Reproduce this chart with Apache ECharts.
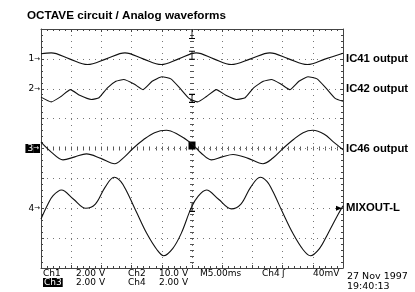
<!DOCTYPE html>
<html>
<head>
<meta charset="utf-8">
<script src="https://cdn.jsdelivr.net/npm/echarts@6/dist/echarts.min.js"></script>
<style>
  html, body { margin: 0; padding: 0; background: #fff; }
  #scope { width: 415px; height: 292px; }
</style>
</head>
<body>
<div id="scope"></div>
<script>
// time in ms relative to the trigger, value in screen divisions
const ch1 = [
  [-25, 3.17], [-23.3, 3.2], [-20.3, 3.0], [-17.3, 2.81], [-14.2, 3.0], [-11.1, 3.2],
  [-8.1, 3.0], [-5.1, 2.81], [-2.2, 3.0], [0.7, 3.2], [3.6, 3.0], [6.5, 2.81],
  [9.7, 3.0], [12.9, 3.2], [16.0, 3.0], [19.1, 2.81], [22.1, 3.0], [25, 3.19]
];
const ch2 = [
  [-25, 1.72], [-23.3, 1.56], [-21.7, 1.74], [-20.13, 1.97], [-18.6, 1.78], [-16.66, 1.64],
  [-15.4, 1.7], [-14.0, 2.03], [-12.6, 2.25], [-11.31, 2.31], [-9.6, 2.16], [-8.11, 1.97],
  [-6.6, 2.25], [-4.97, 2.4], [-3.5, 2.33], [-2.0, 2.02], [-0.5, 1.68], [0.94, 1.56],
  [2.4, 1.74], [4.04, 1.97], [5.6, 1.78], [7.35, 1.64], [8.8, 1.7], [10.2, 2.03],
  [11.8, 2.25], [13.15, 2.31], [14.7, 2.16], [16.18, 1.97], [17.7, 2.25], [19.2, 2.4],
  [20.7, 2.33], [22.2, 2.02], [23.7, 1.68], [25, 1.58]
];
const ch3 = [
  [-25, 0.21], [-23.3, -0.12], [-21.36, -0.38], [-19.4, -0.28], [-17.48, -0.18], [-15.1, -0.33],
  [-12.8, -0.51], [-11.4, -0.32], [-9.77, 0], [-8.0, 0.3], [-6.2, 0.53], [-4.24, 0.61],
  [-2.6, 0.5], [-0.1, 0.17], [1.5, -0.15], [3.2, -0.38], [5.0, -0.28], [6.8, -0.2],
  [9.3, -0.33], [11.75, -0.51], [13.4, -0.32], [15.07, 0], [16.8, 0.3], [18.4, 0.53],
  [20.0, 0.61], [21.9, 0.48], [23.4, 0.22], [25, -0.04]
];
const ch4 = [
  [-25, -2.36], [-23.84, -1.86], [-23.0, -1.58], [-21.62, -1.39], [-19.6, -1.7], [-17.6, -2.0],
  [-16.0, -1.86], [-14.4, -1.3], [-12.9, -0.96], [-11.8, -1.1], [-10.8, -1.44], [-9.1, -2.17],
  [-7.5, -2.84], [-5.8, -3.39], [-4.7, -3.59], [-3.2, -3.35], [-1.8, -2.85], [-0.1, -1.97],
  [1.0, -1.6], [2.38, -1.39], [4.4, -1.7], [6.52, -2.02], [8.1, -1.86], [9.7, -1.3],
  [11.3, -0.96], [12.4, -1.1], [13.4, -1.44], [15.07, -2.17], [16.7, -2.84], [18.4, -3.39],
  [19.6, -3.59], [21.1, -3.35], [22.5, -2.85], [24.2, -2.2], [25, -1.92]
];

const channelMarks = ['1', '2', '3', '4'];
const channelNames = ['IC41 output', 'IC42 output', 'IC46 output', 'MIXOUT-L'];
const channelOffsets = [3, 2, 0, -2];
const triggerLevel = -2;

const readoutTop = ['Ch1', '2.00 V', 'Ch2', '10.0 V', 'M5.00ms', 'Ch4', 'ʃ', '40mV'];
const readoutBottom = ['Ch3', '2.00 V', 'Ch4', '2.00 V'];
const stamp = ['27 Nov 1997', '19:40:13'];
const title = 'OCTAVE circuit / Analog waveforms';

const chart = echarts.init(document.getElementById('scope'));

const edge = '#444';
const plain = 'DejaVu Sans';

function frameAxis(extra) {
  return Object.assign({
    type: 'value',
    min: -25,
    max: 25,
    interval: 5,
    axisLine: { onZero: false, lineStyle: { color: edge, width: 1 } },
    axisTick: { show: true, inside: true, length: 3, lineStyle: { color: edge } },
    minorTick: { show: true, splitNumber: 5, length: 2, lineStyle: { color: edge } },
    axisLabel: { show: false },
    splitLine: { show: false }
  }, extra);
}

function frameYAxis(extra) {
  return Object.assign({
    type: 'value',
    min: -4,
    max: 4,
    interval: 1,
    axisLine: { onZero: false, lineStyle: { color: edge, width: 1 } },
    axisTick: { show: true, inside: true, length: 3, lineStyle: { color: edge } },
    minorTick: { show: true, splitNumber: 5, length: 2, lineStyle: { color: edge } },
    axisLabel: { show: false },
    splitLine: { show: false }
  }, extra);
}

// centre cross: no line of its own, only ticks on both sides of the dotted grid line
function centre(fn, inside) {
  return fn({
    position: fn === frameAxis ? 'bottom' : 'left',
    axisLine: { show: false, onZero: true, onZeroAxisIndex: 0 },
    axisTick: { show: true, inside: inside, length: 2, lineStyle: { color: '#555' } },
    minorTick: { show: true, splitNumber: 5, length: 2, lineStyle: { color: '#555' } }
  });
}

const dotted = { show: true, lineStyle: { color: '#777', type: [1, 5], width: 1 } };

const xPos1 = [43, 76, 128, 159, 200, 262, 282, 313];
const xPos2 = [43, 76, 128, 159];

const graphics = [
  { type: 'text', left: 27, top: 10, style: { text: title, font: 'bold 11.7px "Liberation Sans"', fill: '#000' } }
];
readoutTop.forEach((t, i) => {
  graphics.push({ type: 'text', left: xPos1[i], top: 269, style: { text: t, font: '9px "' + plain + '"', fill: '#000' } });
});
readoutBottom.forEach((t, i) => {
  const inv = i === 0;
  graphics.push({
    type: 'text', left: xPos2[i], top: 278,
    style: {
      text: t, font: '9px "' + plain + '"',
      fill: inv ? '#fff' : '#000',
      backgroundColor: inv ? '#000' : null,
      padding: inv ? [0, 1, 0, 1] : 0
    }
  });
});
graphics.push({ type: 'text', left: 347, top: 272, style: { text: stamp[0], font: '9.5px "' + plain + '"', fill: '#000' } });
graphics.push({ type: 'text', left: 347, top: 282, style: { text: stamp[1], font: '9.5px "' + plain + '"', fill: '#000' } });

const ibeam = 'path://M0,0H6M3,0V10M0,10H6';
const tee = 'path://M0,10H6M3,10V0';
const strokeOnly = { color: 'none', borderColor: '#000', borderWidth: 1 };

function wave(name, data, smooth, marks) {
  return {
    name: name,
    type: 'line',
    data: data,
    xAxisIndex: 0,
    yAxisIndex: 0,
    showSymbol: false,
    smooth: smooth,
    lineStyle: { color: '#111', width: 1.1 },
    z: 5,
    markPoint: marks ? { silent: true, label: { show: false }, data: marks } : undefined
  };
}

chart.setOption({
  animation: false,
  backgroundColor: '#fff',
  grid: { left: 41, top: 29, width: 302, height: 239, containLabel: false },
  graphic: graphics,
  xAxis: [
    frameAxis({ position: 'bottom', splitLine: dotted }),
    frameAxis({ position: 'top' }),
    centre(frameAxis, true),
    centre(frameAxis, false)
  ],
  yAxis: [
    frameYAxis({
      position: 'left',
      splitLine: dotted,
      axisLabel: {
        show: true,
        margin: 1,
        formatter: function (v) {
          const i = channelOffsets.indexOf(v);
          if (i < 0) return '';
          return i === 2 ? '{inv|' + channelMarks[i] + '}{inva|→}' : '{n|' + channelMarks[i] + '}{a|→}';
        },
        rich: {
          n: { fontSize: 9, fontFamily: plain, color: '#000' },
          a: { fontSize: 7, fontFamily: plain, color: '#000' },
          inv: { fontSize: 9, fontFamily: plain, color: '#fff', backgroundColor: '#000', padding: [0, 0, 0, 2] },
          inva: { fontSize: 7, fontFamily: plain, color: '#fff', backgroundColor: '#000', padding: [1, 1, 1, 0] }
        }
      }
    }),
    frameYAxis({
      position: 'right',
      axisLabel: {
        show: true,
        margin: 3,
        color: '#000',
        fontSize: 11.3,
        fontWeight: 'bold',
        fontFamily: 'Liberation Sans',
        formatter: function (v) {
          const i = channelOffsets.indexOf(v);
          return i < 0 ? '' : channelNames[i];
        }
      }
    }),
    centre(frameYAxis, true),
    centre(frameYAxis, false)
  ],
  series: [
    wave('IC41', ch1, 0.35, [
      { coord: [0, 4], symbol: tee, symbolSize: [6, 9], symbolOffset: [0, 5], itemStyle: strokeOnly },
      { coord: [0, 3.12], symbol: ibeam, symbolSize: [6, 8], itemStyle: strokeOnly }
    ]),
    wave('IC42', ch2, 0.15, [
      { coord: [0, 1.68], symbol: ibeam, symbolSize: [6, 8], itemStyle: strokeOnly }
    ]),
    wave('IC46', ch3, 0.35, [
      { coord: [0, 0.1], symbol: 'rect', symbolSize: [7, 8], itemStyle: { color: '#000' } }
    ]),
    wave('MIXOUT-L', ch4, 0.35, [
      { coord: [0, -1.97], symbol: tee, symbolSize: [6, 8], itemStyle: strokeOnly },
      { coord: [25, triggerLevel], symbol: 'triangle', symbolRotate: -90, symbolSize: [5, 6], symbolOffset: [-4, 0], itemStyle: { color: '#000' } }
    ])
  ]
});
</script>
</body>
</html>
